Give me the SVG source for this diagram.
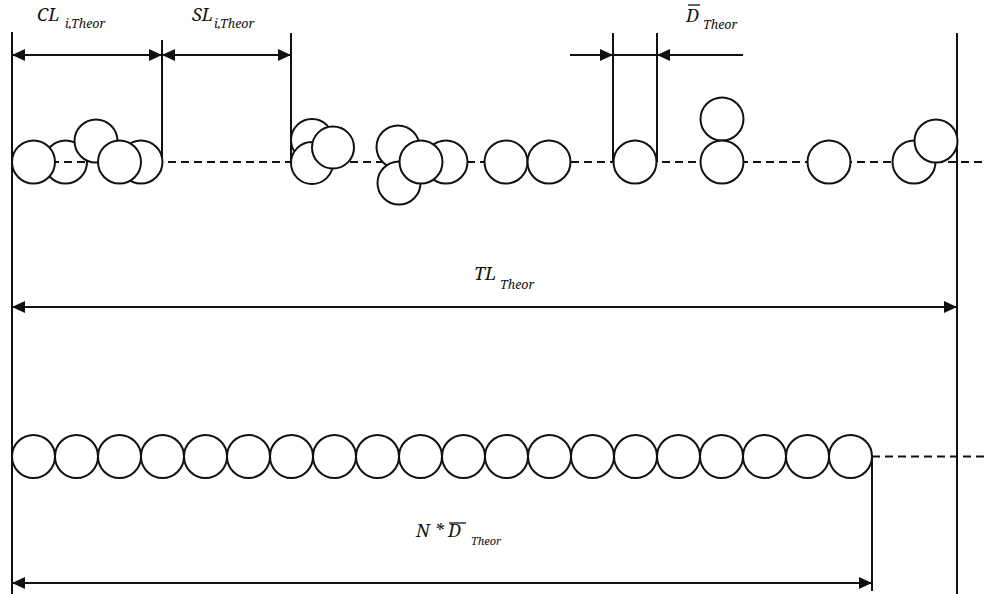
<svg xmlns="http://www.w3.org/2000/svg" width="984" height="594" viewBox="0 0 984 594">
  <style>
    .ln { stroke: #111; stroke-width: 2; fill: none; }
    .dash { stroke: #111; stroke-width: 2; stroke-dasharray: 8 5; fill: none; }
    .p { stroke: #111; stroke-width: 2; fill: #fff; }
    .po { stroke: #111; stroke-width: 2; fill: none; }
    .dim { stroke: #111; stroke-width: 2; fill: none; marker-end: url(#ah); }
    .dim2 { stroke: #111; stroke-width: 2; fill: none; marker-start: url(#ah); marker-end: url(#ah); }
    .lbl { font-family: "Noto Serif", "Liberation Serif", serif; font-style: italic; font-size: 18px; fill: #111; }
    .sub { font-size: 12.5px; }
    .sub2 { font-size: 11px; }
    .bar { stroke: #111; stroke-width: 1.3; }
  </style>
  <defs>
    <marker id="ah" markerUnits="userSpaceOnUse" markerWidth="14" markerHeight="12" refX="13" refY="6" orient="auto-start-reverse">
      <path d="M0,0 L13,6 L0,12 Z" fill="#111"/>
    </marker>
  </defs>

  <!-- reference lines -->
  <g id="guides">
    <line class="ln" x1="12" y1="32" x2="12" y2="594"/>
    <line class="ln" x1="957" y1="33" x2="957" y2="594"/>
    <line class="ln" x1="162" y1="40" x2="162" y2="162"/>
    <line class="ln" x1="291" y1="33" x2="291" y2="162"/>
    <line class="ln" x1="613" y1="33" x2="613" y2="162"/>
    <line class="ln" x1="657" y1="33" x2="657" y2="162"/>
    <line class="ln" x1="872" y1="456.5" x2="872" y2="591"/>
    <line class="dash" x1="12" y1="162" x2="984" y2="162"/>
    <line class="dash" x1="872" y1="456.5" x2="984" y2="456.5"/>
  </g>

  <!-- actual particle chain -->
  <g id="cluster-cl">
    <circle class="p" cx="141" cy="162" r="21.5"/>
    <circle class="po" cx="65.5" cy="162" r="21.5"/>
    <circle class="p" cx="96" cy="141" r="21.5"/>
    <circle class="p" cx="33.5" cy="162" r="21.5"/>
    <circle class="p" cx="119.5" cy="162" r="21.5"/>
  </g>
  <g id="cluster-2">
    <circle class="p" cx="312" cy="140" r="21"/>
    <circle class="p" cx="312" cy="163" r="21"/>
    <circle class="p" cx="333" cy="147.5" r="21"/>
  </g>
  <g id="cluster-3">
    <circle class="p" cx="446" cy="162" r="21.5"/>
    <circle class="p" cx="398" cy="147" r="21.5"/>
    <circle class="p" cx="399" cy="183" r="21.5"/>
    <circle class="p" cx="421" cy="162" r="21.5"/>
  </g>
  <g id="cluster-4">
    <circle class="p" cx="506" cy="162" r="21.5"/>
    <circle class="p" cx="549" cy="162" r="21.5"/>
  </g>
  <g id="single-d">
    <circle class="p" cx="635" cy="162" r="21.5"/>
  </g>
  <g id="cluster-5">
    <circle class="p" cx="722" cy="119" r="21.5"/>
    <circle class="p" cx="722" cy="162" r="21.5"/>
  </g>
  <g id="single-6">
    <circle class="p" cx="829" cy="162" r="21.5"/>
  </g>
  <g id="cluster-7">
    <circle class="p" cx="914" cy="162" r="21.5"/>
    <circle class="p" cx="936" cy="141" r="21.5"/>
  </g>

  <!-- ideal close-packed chain -->
  <g id="packed-chain">
    <circle class="p" cx="33.5" cy="456.5" r="21.5"/>
    <circle class="p" cx="76.5" cy="456.5" r="21.5"/>
    <circle class="p" cx="119.5" cy="456.5" r="21.5"/>
    <circle class="p" cx="162.5" cy="456.5" r="21.5"/>
    <circle class="p" cx="205.5" cy="456.5" r="21.5"/>
    <circle class="p" cx="248.5" cy="456.5" r="21.5"/>
    <circle class="p" cx="291.5" cy="456.5" r="21.5"/>
    <circle class="p" cx="334.5" cy="456.5" r="21.5"/>
    <circle class="p" cx="377.5" cy="456.5" r="21.5"/>
    <circle class="p" cx="420.5" cy="456.5" r="21.5"/>
    <circle class="p" cx="463.5" cy="456.5" r="21.5"/>
    <circle class="p" cx="506.5" cy="456.5" r="21.5"/>
    <circle class="p" cx="549.5" cy="456.5" r="21.5"/>
    <circle class="p" cx="592.5" cy="456.5" r="21.5"/>
    <circle class="p" cx="635.5" cy="456.5" r="21.5"/>
    <circle class="p" cx="678.5" cy="456.5" r="21.5"/>
    <circle class="p" cx="721.5" cy="456.5" r="21.5"/>
    <circle class="p" cx="764.5" cy="456.5" r="21.5"/>
    <circle class="p" cx="807.5" cy="456.5" r="21.5"/>
    <circle class="p" cx="850.5" cy="456.5" r="21.5"/>
  </g>

  <!-- dimension arrows -->
  <g id="connectors">
    <line class="dim2" x1="12" y1="55" x2="162" y2="55"/>
    <line class="dim2" x1="162" y1="55" x2="291" y2="55"/>
    <line class="dim" x1="570" y1="55" x2="613" y2="55"/>
    <line class="ln" x1="613" y1="55" x2="657" y2="55"/>
    <line class="dim" x1="743" y1="55" x2="657" y2="55"/>
    <line class="dim2" x1="12" y1="307" x2="957" y2="307"/>
    <line class="dim2" x1="12" y1="583" x2="872" y2="583"/>
  </g>

  <!-- labels -->
  <g id="label-cl">
    <text class="lbl" x="37" y="21">CL</text>
    <text class="lbl sub" x="65" y="28">i,Theor</text>
  </g>
  <g id="label-sl">
    <text class="lbl" x="192" y="21">SL</text>
    <text class="lbl sub" x="214" y="28">i,Theor</text>
  </g>
  <g id="label-d">
    <text class="lbl" x="686" y="22">D</text>
    <line class="bar" x1="688" y1="5" x2="700" y2="5"/>
    <text class="lbl sub" x="703" y="29">Theor</text>
  </g>
  <g id="label-tl">
    <text class="lbl" x="474" y="280">TL</text>
    <text class="lbl sub" x="500" y="289">Theor</text>
  </g>
  <g id="label-nd">
    <text class="lbl" x="416" y="537">N * D</text>
    <line class="bar" x1="449" y1="523" x2="466" y2="523"/>
    <text class="lbl sub2" x="471" y="545">Theor</text>
  </g>
</svg>
